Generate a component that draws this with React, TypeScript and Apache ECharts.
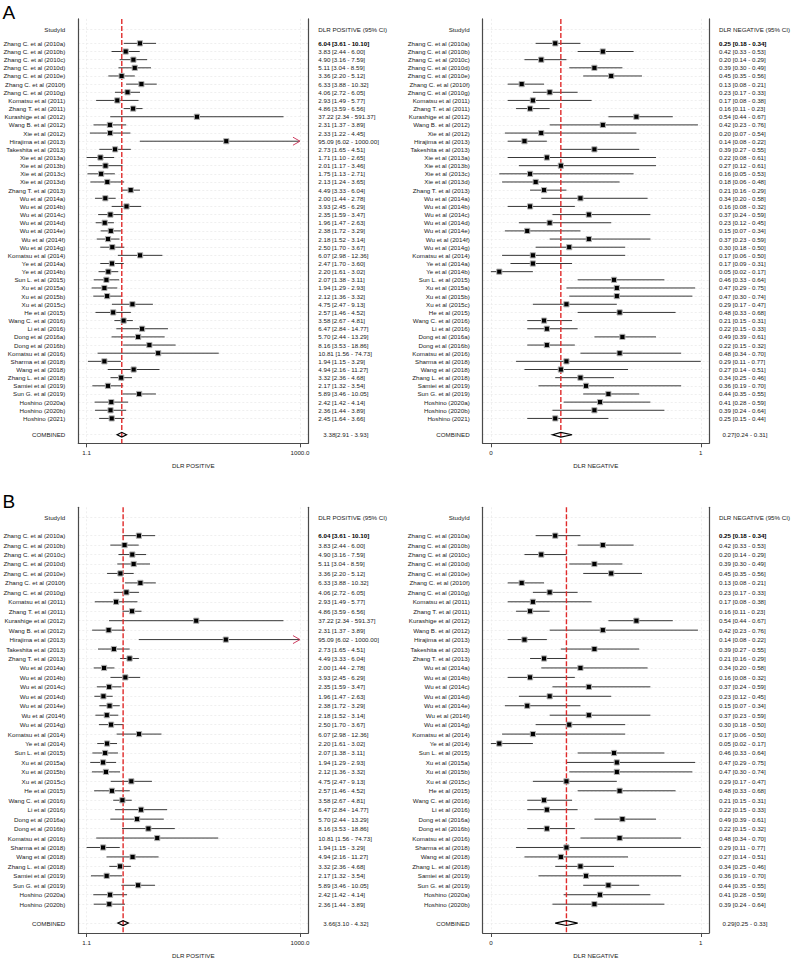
import React, { useEffect, useRef } from 'react';
import * as echarts from 'echarts';

// ---------- Panel A data ----------
const studiesA = [
  'Zhang C. et al (2010a)', 'Zhang C. et al (2010b)', 'Zhang C. et al (2010c)', 'Zhang C. et al (2010d)',
  'Zhang C. et al (2010e)', 'Zhang C. et al (2010f)', 'Zhang C. et al (2010g)', 'Komatsu et al (2011)',
  'Zhang T. et al (2011)', 'Kurashige et al (2012)', 'Wang B. et al (2012)', 'Xie et al (2012)',
  'Hirajima et al (2013)', 'Takeshita et al (2013)', 'Xie et al (2013a)', 'Xie et al (2013b)',
  'Xie et al (2013c)', 'Xie et al (2013d)', 'Zhang T. et al (2013)', 'Wu et al (2014a)',
  'Wu et al (2014b)', 'Wu et al (2014c)', 'Wu et al (2014d)', 'Wu et al (2014e)',
  'Wu et al (2014f)', 'Wu et al (2014g)', 'Komatsu et al (2014)', 'Ye et al (2014a)',
  'Ye et al (2014b)', 'Sun L. et al (2015)', 'Xu et al (2015a)', 'Xu et al (2015b)',
  'Xu et al (2015c)', 'He et al (2015)', 'Wang C. et al (2016)', 'Li et al (2016)',
  'Dong et al (2016a)', 'Dong et al (2016b)', 'Komatsu et al (2016)', 'Sharma et al (2018)',
  'Wang et al (2018)', 'Zhang L. et al (2018)', 'Samiei et al (2019)', 'Sun G. et al (2019)',
  'Hoshino (2020a)', 'Hoshino (2020b)', 'Hoshino (2021)',
];
const posEstA = [6.04, 3.83, 4.90, 5.11, 3.36, 6.33, 4.06, 2.93, 4.86, 37.22, 2.31, 2.33, 95.09, 2.73, 1.71, 2.01, 1.75, 2.13, 4.49, 2.00, 3.93, 2.35, 1.96, 2.38, 2.18, 2.50, 6.07, 2.47, 2.20, 2.07, 1.94, 2.12, 4.75, 2.57, 3.58, 6.47, 5.70, 8.16, 10.81, 1.94, 4.94, 3.32, 2.17, 5.89, 2.42, 2.36, 2.45];
const posLoA = [3.61, 2.44, 3.16, 3.04, 2.20, 3.88, 2.72, 1.49, 3.59, 2.34, 1.37, 1.22, 6.02, 1.65, 1.10, 1.17, 1.13, 1.24, 3.33, 1.44, 2.45, 1.59, 1.47, 1.72, 1.52, 1.70, 2.98, 1.70, 1.61, 1.38, 1.29, 1.36, 2.47, 1.46, 2.67, 2.84, 2.44, 3.53, 1.56, 1.15, 2.16, 2.36, 1.32, 3.46, 1.42, 1.44, 1.64];
const posHiA = [10.10, 6.00, 7.59, 8.59, 5.12, 10.32, 6.05, 5.77, 6.56, 591.37, 3.89, 4.45, 1000.00, 4.51, 2.65, 3.46, 2.71, 3.65, 6.04, 2.78, 6.29, 3.47, 2.63, 3.29, 3.14, 3.67, 12.36, 3.60, 3.02, 3.11, 2.93, 3.32, 9.13, 4.52, 4.81, 14.77, 13.29, 18.86, 74.73, 3.29, 11.27, 4.68, 3.54, 10.05, 4.14, 3.89, 3.66];
const negEstA = [0.25, 0.42, 0.20, 0.39, 0.45, 0.13, 0.23, 0.17, 0.16, 0.54, 0.42, 0.20, 0.14, 0.39, 0.22, 0.27, 0.16, 0.18, 0.21, 0.34, 0.16, 0.37, 0.23, 0.15, 0.37, 0.30, 0.17, 0.17, 0.05, 0.46, 0.47, 0.47, 0.29, 0.48, 0.21, 0.22, 0.49, 0.22, 0.48, 0.29, 0.27, 0.34, 0.36, 0.44, 0.41, 0.39, 0.25];
const negLoA = [0.18, 0.33, 0.14, 0.30, 0.35, 0.08, 0.17, 0.08, 0.11, 0.44, 0.23, 0.07, 0.08, 0.27, 0.08, 0.12, 0.05, 0.06, 0.16, 0.20, 0.08, 0.24, 0.12, 0.07, 0.23, 0.18, 0.06, 0.09, 0.02, 0.33, 0.29, 0.30, 0.17, 0.33, 0.15, 0.15, 0.39, 0.15, 0.34, 0.11, 0.14, 0.25, 0.19, 0.35, 0.28, 0.24, 0.15];
const negHiA = [0.34, 0.53, 0.29, 0.49, 0.56, 0.21, 0.33, 0.38, 0.23, 0.67, 0.76, 0.54, 0.22, 0.55, 0.61, 0.61, 0.53, 0.48, 0.29, 0.58, 0.32, 0.59, 0.45, 0.34, 0.59, 0.50, 0.50, 0.31, 0.17, 0.64, 0.75, 0.74, 0.47, 0.68, 0.31, 0.33, 0.61, 0.32, 0.70, 0.77, 0.51, 0.46, 0.70, 0.55, 0.59, 0.64, 0.44];
const pooledPosA = [3.38, 2.91, 3.93];
const pooledNegA = [0.27, 0.24, 0.31];

// ---------- Panel B data ----------
const studiesB = [
  'Zhang C. et al (2010a)', 'Zhang C. et al (2010b)', 'Zhang C. et al (2010c)', 'Zhang C. et al (2010d)',
  'Zhang C. et al (2010e)', 'Zhang C. et al (2010f)', 'Zhang C. et al (2010g)', 'Komatsu et al (2011)',
  'Zhang T. et al (2011)', 'Kurashige et al (2012)', 'Wang B. et al (2012)', 'Hirajima et al (2013)',
  'Takeshita et al (2013)', 'Zhang T. et al (2013)', 'Wu et al (2014a)', 'Wu et al (2014b)',
  'Wu et al (2014c)', 'Wu et al (2014d)', 'Wu et al (2014e)', 'Wu et al (2014f)',
  'Wu et al (2014g)', 'Komatsu et al (2014)', 'Ye et al (2014)', 'Sun L. et al (2015)',
  'Xu et al (2015a)', 'Xu et al (2015b)', 'Xu et al (2015c)', 'He et al (2015)',
  'Wang C. et al (2016)', 'Li et al (2016)', 'Dong et al (2016a)', 'Dong et al (2016b)',
  'Komatsu et al (2016)', 'Sharma et al (2018)', 'Wang et al (2018)', 'Zhang L. et al (2018)',
  'Samiei et al (2019)', 'Sun G. et al (2019)', 'Hoshino (2020a)', 'Hoshino (2020b)',
];
const posEstB = [6.04, 3.83, 4.90, 5.11, 3.36, 6.33, 4.06, 2.93, 4.86, 37.22, 2.31, 95.09, 2.73, 4.49, 2.00, 3.93, 2.35, 1.96, 2.38, 2.18, 2.50, 6.07, 2.20, 2.07, 1.94, 2.12, 4.75, 2.57, 3.58, 6.47, 5.70, 8.16, 10.81, 1.94, 4.94, 3.32, 2.17, 5.89, 2.42, 2.36];
const posLoB = [3.61, 2.44, 3.16, 3.04, 2.20, 3.88, 2.72, 1.49, 3.59, 2.34, 1.37, 6.02, 1.65, 3.33, 1.44, 2.45, 1.59, 1.47, 1.72, 1.52, 1.70, 2.98, 1.61, 1.38, 1.29, 1.36, 2.47, 1.46, 2.67, 2.84, 2.44, 3.53, 1.56, 1.15, 2.16, 2.36, 1.32, 3.46, 1.42, 1.44];
const posHiB = [10.10, 6.00, 7.59, 8.59, 5.12, 10.32, 6.05, 5.77, 6.56, 591.37, 3.89, 1000.00, 4.51, 6.04, 2.78, 6.29, 3.47, 2.63, 3.29, 3.14, 3.67, 12.36, 3.02, 3.11, 2.93, 3.32, 9.13, 4.52, 4.81, 14.77, 13.29, 18.86, 74.73, 3.29, 11.27, 4.68, 3.54, 10.05, 4.14, 3.89];
const negEstB = [0.25, 0.42, 0.20, 0.39, 0.45, 0.13, 0.23, 0.17, 0.16, 0.54, 0.42, 0.14, 0.39, 0.21, 0.34, 0.16, 0.37, 0.23, 0.15, 0.37, 0.30, 0.17, 0.05, 0.46, 0.47, 0.47, 0.29, 0.48, 0.21, 0.22, 0.49, 0.22, 0.48, 0.29, 0.27, 0.34, 0.36, 0.44, 0.41, 0.39];
const negLoB = [0.18, 0.33, 0.14, 0.30, 0.35, 0.08, 0.17, 0.08, 0.11, 0.44, 0.23, 0.08, 0.27, 0.16, 0.20, 0.08, 0.24, 0.12, 0.07, 0.23, 0.18, 0.06, 0.02, 0.33, 0.29, 0.30, 0.17, 0.33, 0.15, 0.15, 0.39, 0.15, 0.34, 0.11, 0.14, 0.25, 0.19, 0.35, 0.28, 0.24];
const negHiB = [0.34, 0.53, 0.29, 0.49, 0.56, 0.21, 0.33, 0.38, 0.23, 0.67, 0.76, 0.22, 0.55, 0.29, 0.58, 0.32, 0.59, 0.45, 0.34, 0.59, 0.50, 0.50, 0.17, 0.64, 0.75, 0.74, 0.47, 0.68, 0.31, 0.33, 0.61, 0.32, 0.70, 0.77, 0.51, 0.46, 0.70, 0.55, 0.59, 0.64];
const pooledPosB = [3.66, 3.10, 4.32];
const pooledNegB = [0.29, 0.25, 0.33];

// ---------- texts ----------
const headerStudy = 'StudyId';
const headerPos = 'DLR POSITIVE (95% CI)';
const headerNeg = 'DLR NEGATIVE (95% CI)';
const titlePos = 'DLR POSITIVE';
const titleNeg = 'DLR NEGATIVE';
const combinedLabel = 'COMBINED';
const truncationCap = 1000;

const FONT = '"Liberation Sans", Arial, Helvetica, sans-serif';
const FS = 6.2;
const TXT = '#222';
const FRAME = '#4a4a4a';
const GRIDC = '#ebebeb';

const ci = (e: number, l: number, h: number) => `${e.toFixed(2)} [${l.toFixed(2)} - ${h.toFixed(2)}]`;

function nearest(map: [number, string][], v: number) {
  let best = '';
  let bd = 1e9;
  for (const [k, s] of map) {
    const d = Math.abs(k - v);
    if (d < bd) { bd = d; best = s; }
  }
  return bd < 0.05 ? best : '';
}

interface PanelCfg {
  names: string[]; est: number[]; lo: number[]; hi: number[]; pooled: number[];
  log: boolean; left: number; width: number; top: number; height: number;
  headerRow: number; headerValue: string; title: string; comboPad: number;
}

function buildPanel(g: number, c: PanelCfg, opt: any) {
  const n = c.names.length;
  const yMin = -3;
  const yMax = n + 2.05;
  const comboRow = n + 1;
  const tf = (v: number) => (c.log ? Math.log10(v) : v);
  const tickLo = tf(Math.min(...c.lo));
  const tickHi = tf(Math.max(...c.hi));
  const pad = 0.039 * (tickHi - tickLo);
  const xMin = tickLo - pad;
  const xMax = tickHi + pad;
  const fmtX = (v: number) =>
    c.log ? (Math.floor(Math.pow(10, v) * 10 + 1e-6) / 10).toFixed(1) : v.toFixed(0);

  const rows = [c.headerRow, ...c.names.map((_, i) => i), comboRow];
  const leftMap: [number, string][] = [[c.headerRow, headerStudy], ...c.names.map((s, i) => [i, s] as [number, string]), [comboRow, combinedLabel]];
  const rightMap: [number, string][] = [
    [c.headerRow, c.headerValue],
    ...c.names.map((_, i) => [i, i === 0 ? `{b|${ci(c.est[i], c.lo[i], c.hi[i])}}` : ci(c.est[i], c.lo[i], c.hi[i])] as [number, string]),
    [comboRow, `{p|${c.pooled[0].toFixed(2)}[${c.pooled[1].toFixed(2)} - ${c.pooled[2].toFixed(2)}]}`],
  ];

  opt.grid.push({ left: c.left, top: c.top, width: c.width, height: c.height, containLabel: false });
  opt.xAxis.push({
    gridIndex: g, type: 'value', min: xMin, max: xMax,
    axisLine: { show: true, onZero: false, lineStyle: { color: FRAME, width: 1.2 } },
    axisTick: { show: true, customValues: [tickLo, tickHi], length: 4, lineStyle: { color: FRAME, width: 1 } },
    axisLabel: { customValues: [tickLo, tickHi], formatter: (v: number) => fmtX(v), fontSize: FS, fontFamily: FONT, color: TXT, margin: 6 },
    splitLine: { show: true, lineStyle: { color: GRIDC, type: [2, 2], width: 0.8 } },
    name: c.title, nameLocation: 'middle', nameGap: 19,
    nameTextStyle: { fontSize: FS, fontFamily: FONT, color: TXT },
  });
  const yBase = {
    gridIndex: g, type: 'value', inverse: true, min: yMin, max: yMax,
    axisLine: { show: true, onZero: false, lineStyle: { color: FRAME, width: 1.2 } },
  };
  opt.yAxis.push({
    ...yBase, position: 'left',
    axisTick: { show: false, customValues: rows },
    axisLabel: { customValues: rows, formatter: (v: number) => nearest(leftMap, v), fontSize: FS, fontFamily: FONT, color: TXT, margin: 13 },
    splitLine: { show: true, lineStyle: { color: GRIDC, type: [2, 2], width: 0.8 } },
  });
  opt.yAxis.push({
    ...yBase, position: 'right',
    axisTick: { show: false, customValues: rows },
    axisLabel: {
      customValues: rows, formatter: (v: number) => nearest(rightMap, v), fontSize: FS, fontFamily: FONT, color: TXT, margin: 10,
      rich: {
        b: { fontSize: FS, fontFamily: FONT, color: '#000', fontWeight: 'bold' },
        p: { fontSize: FS, fontFamily: FONT, color: TXT, padding: [0, 0, 0, c.comboPad] },
      },
    },
    splitLine: { show: false },
  });
  const yi = 2 * g;
  opt.series.push({
    type: 'custom', xAxisIndex: g, yAxisIndex: yi, z: 2, silent: true,
    encode: { x: [0, 1], y: 2 },
    data: c.names.map((_, i) => [tf(c.lo[i]), tf(c.hi[i]), i, c.hi[i] >= truncationCap ? 1 : 0]),
    renderItem: (_p: any, api: any) => {
      const a = api.coord([api.value(0), api.value(2)]);
      const b = api.coord([api.value(1), api.value(2)]);
      const children: any[] = [{
        type: 'line', shape: { x1: a[0], y1: a[1], x2: b[0], y2: b[1] },
        style: { stroke: '#383838', lineWidth: 1 },
      }];
      if (api.value(3)) {
        children.push({
          type: 'polyline',
          shape: { points: [[b[0] - 7, b[1] - 4], [b[0], b[1]], [b[0] - 7, b[1] + 4]] },
          style: { stroke: '#cf3f62', fill: 'none', lineWidth: 1 },
        });
      }
      return { type: 'group', children };
    },
  });
  opt.series.push({
    type: 'line', xAxisIndex: g, yAxisIndex: yi, z: 3, silent: true, symbol: 'none',
    data: [[tf(c.pooled[0]), yMin], [tf(c.pooled[0]), yMax]],
    lineStyle: { color: '#e02a2a', width: 1.4, type: [5, 2] },
  });
  opt.series.push({
    type: 'scatter', xAxisIndex: g, yAxisIndex: yi, z: 4, silent: true,
    symbol: 'rect', symbolSize: 5.2,
    itemStyle: { color: '#000', borderColor: '#b4b4b4', borderWidth: 1, opacity: 1 },
    data: c.est.map((e, i) => [tf(e), i]),
  });
  opt.series.push({
    type: 'custom', xAxisIndex: g, yAxisIndex: yi, z: 5, silent: true,
    encode: { x: [0, 1, 2], y: 3 },
    data: [[tf(c.pooled[1]), tf(c.pooled[0]), tf(c.pooled[2]), comboRow]],
    renderItem: (_p: any, api: any) => {
      const l = api.coord([api.value(0), api.value(3)]);
      const m = api.coord([api.value(1), api.value(3)]);
      const r = api.coord([api.value(2), api.value(3)]);
      return {
        type: 'polygon',
        shape: { points: [[l[0], l[1]], [m[0], m[1] - 2.4], [r[0], r[1]], [m[0], m[1] + 2.4]] },
        style: { stroke: '#000', fill: 'none', lineWidth: 1.2 },
      };
    },
  });
}

export default function App() {
  const ref = useRef<HTMLDivElement>(null);
  useEffect(() => {
    if (!ref.current) return;
    const chart = echarts.init(ref.current, undefined, { renderer: 'svg' });
    const opt: any = {
      animation: false, backgroundColor: '#fff',
      grid: [], xAxis: [], yAxis: [], series: [],
      graphic: [
        { type: 'text', x: 2.5, y: 12, style: { text: 'A', fontSize: 19, fontFamily: FONT, fill: '#000', verticalAlign: 'middle', align: 'left' } },
        { type: 'text', x: 2.5, y: 501, style: { text: 'B', fontSize: 19, fontFamily: FONT, fill: '#000', verticalAlign: 'middle', align: 'left' } },
      ],
    };
    const LX = 78.3, LW = 230, RX = 482.7, RW = 227.6;
    buildPanel(0, { names: studiesA, est: posEstA, lo: posLoA, hi: posHiA, pooled: pooledPosA, log: true, left: LX, width: LW, top: 18.9, height: 424.4, headerRow: -1.75, headerValue: headerPos, title: titlePos, comboPad: 5 }, opt);
    buildPanel(1, { names: studiesA, est: negEstA, lo: negLoA, hi: negHiA, pooled: pooledNegA, log: false, left: RX, width: RW, top: 18.9, height: 424.4, headerRow: -1.75, headerValue: headerNeg, title: titleNeg, comboPad: 3.5 }, opt);
    buildPanel(2, { names: studiesB, est: posEstB, lo: posLoB, hi: posHiB, pooled: pooledPosB, log: true, left: LX, width: LW, top: 507.3, height: 426, headerRow: -1.9, headerValue: headerPos, title: titlePos, comboPad: 5 }, opt);
    buildPanel(3, { names: studiesB, est: negEstB, lo: negLoB, hi: negHiB, pooled: pooledNegB, log: false, left: RX, width: RW, top: 507.3, height: 426, headerRow: -1.9, headerValue: headerNeg, title: titleNeg, comboPad: 3.5 }, opt);
    chart.setOption(opt);
    return () => chart.dispose();
  }, []);
  return <div ref={ref} style={{ position: 'absolute', left: 0, top: 0, width: 793, height: 959 }} />;
}
